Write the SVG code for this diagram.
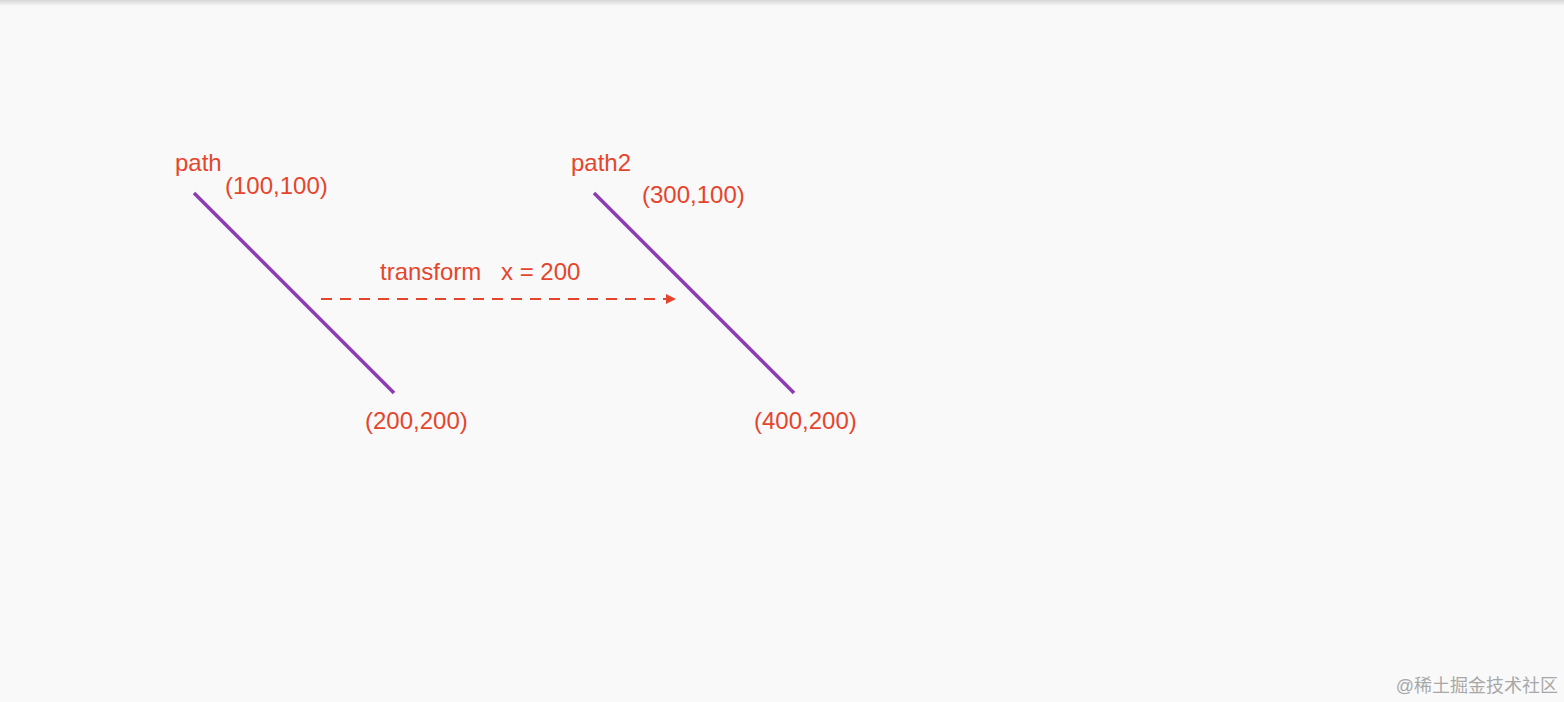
<svg xmlns="http://www.w3.org/2000/svg" width="1564" height="702" viewBox="0 0 1564 702">
<defs>
<linearGradient id="topShadow" x1="0" y1="0" x2="0" y2="1">
<stop offset="0" stop-color="#d6d6d6"/>
<stop offset="1" stop-color="#f9f9f9"/>
</linearGradient>
<marker id="arrow" viewBox="0 0 10 10" refX="9" refY="5" markerWidth="10" markerHeight="10" markerUnits="userSpaceOnUse" orient="auto">
<path d="M0,0 L10,5 L0,10 Z" fill="#e5452c"/>
</marker>
<style>
.lbl{font-family:"Liberation Sans",Arial,sans-serif;font-size:24px;fill:#e5452c}
.seg{stroke:#8b3db3;stroke-width:3.5;fill:none}
.conn{stroke:#e5452c;stroke-width:2;stroke-dasharray:11 8;fill:none}
.wm{font-family:"Liberation Sans","Noto Sans CJK SC",sans-serif;font-size:18px;fill:#a8a8a8}
</style>
</defs>
<rect width="1564" height="702" fill="#f9f9f9"/>
<rect width="1564" height="6" fill="url(#topShadow)"/>
<g id="path1">
<line class="seg" x1="194" y1="193" x2="394" y2="393"/>
<text class="lbl" x="175" y="171">path</text>
<text class="lbl" x="225" y="194">(100,100)</text>
<text class="lbl" x="365" y="429">(200,200)</text>
</g>
<g id="path2">
<line class="seg" x1="594" y1="193" x2="794" y2="393"/>
<text class="lbl" x="571" y="171">path2</text>
<text class="lbl" x="642" y="203">(300,100)</text>
<text class="lbl" x="754" y="429">(400,200)</text>
</g>
<g id="connectors">
<line class="conn" x1="321" y1="299" x2="675" y2="299" marker-end="url(#arrow)"/>
<text class="lbl" x="380" y="280">transform</text>
<text class="lbl" x="501" y="280">x = 200</text>
</g>
<text class="wm" x="1558" y="692" text-anchor="end">@稀土掘金技术社区</text>
</svg>
